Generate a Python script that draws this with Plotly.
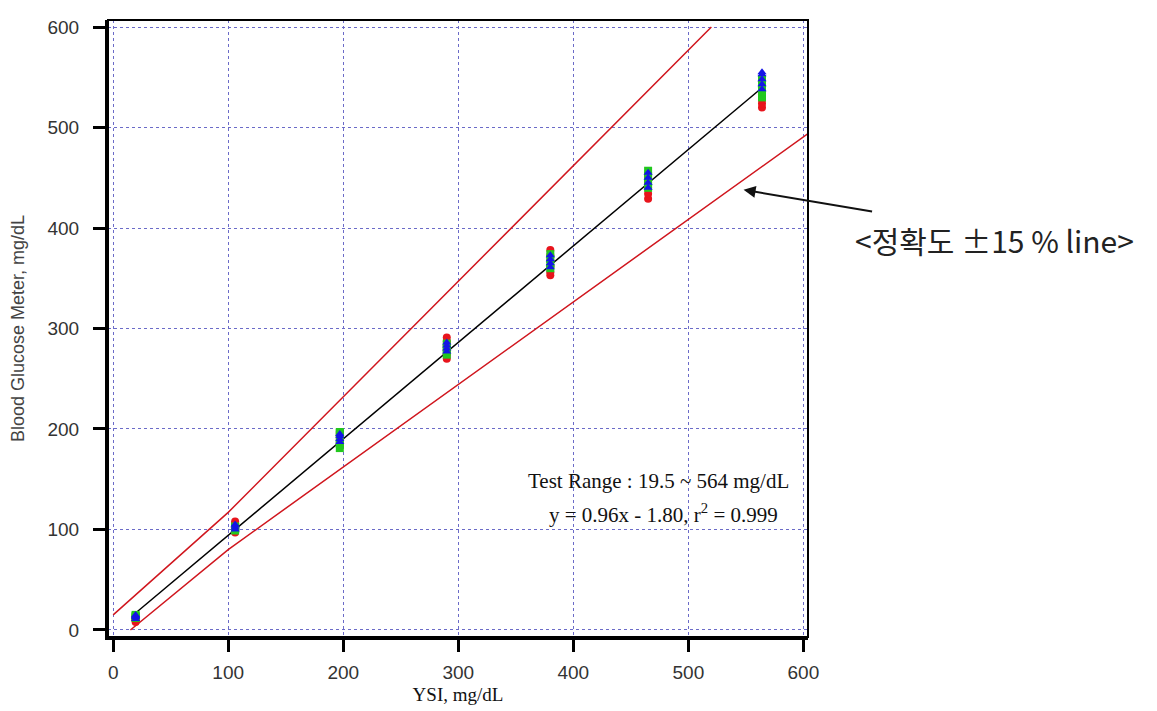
import plotly.graph_objs as go

# YSI reference levels (mg/dL)
ysi_levels = [19.5, 106, 197, 290, 380, 465, 564]

# meter readings per level, three lots
lot_red = [
    [8, 10, 11, 12, 13, 10],
    [97, 99, 101, 104, 106, 108],
    [184, 187, 190, 193, 195, 197],
    [270, 274, 279, 283, 287, 291],
    [353, 356, 362, 368, 373, 378],
    [429, 434, 440, 445, 449, 452],
    [520, 524, 528, 533, 540, 546],
]
lot_green = [
    [12, 14, 15, 13],
    [99, 101, 103, 102],
    [181, 185, 190, 196, 197],
    [274, 278, 281, 285],
    [360, 364, 369, 374],
    [440, 446, 452, 457],
    [530, 536, 541, 548],
]
lot_blue = [
    [11, 13, 15, 14],
    [100, 102, 104, 105],
    [187, 190, 193, 195],
    [277, 280, 283, 286],
    [361, 365, 369, 373],
    [440, 445, 450, 455],
    [538, 543, 548, 553, 555],
]

fit_x = [19.5, 564]
fit_y = [16.9, 539.6]
upper_x = [0, 100, 520]
upper_y = [15, 117, 600]
lower_x = [15, 100, 604]
lower_y = [0, 80, 494]

x_ticks = [0, 100, 200, 300, 400, 500, 600]
y_ticks = [0, 100, 200, 300, 400, 500, 600]


def flatten(levels, groups):
    xs, ys = [], []
    for lv, vals in zip(levels, groups):
        xs += [lv] * len(vals)
        ys += vals
    return xs, ys


fig = go.Figure()

fig.add_trace(go.Scatter(x=upper_x, y=upper_y, mode="lines",
                         line=dict(color="#d0161e", width=1.5)))
fig.add_trace(go.Scatter(x=lower_x, y=lower_y, mode="lines",
                         line=dict(color="#d0161e", width=1.5)))
fig.add_trace(go.Scatter(x=fit_x, y=fit_y, mode="lines",
                         line=dict(color="black", width=1.5)))

for groups, color, symbol in [
    (lot_red, "#e8141c", "circle"),
    (lot_green, "#22c81e", "square"),
    (lot_blue, "#1414e6", "triangle-up"),
]:
    xs, ys = flatten(ysi_levels, groups)
    fig.add_trace(go.Scatter(x=xs, y=ys, mode="markers",
                             marker=dict(color=color, symbol=symbol, size=8,
                                         line=dict(width=0))))

axis_common = dict(
    showline=True, linecolor="black", linewidth=3,
    ticks="outside", ticklen=12, tickwidth=3, tickcolor="black",
    showgrid=True, gridcolor="#6b6bc8", gridwidth=1, griddash="dot",
    zeroline=False, automargin=False,
    tickfont=dict(family="Liberation Sans, Arial", size=19, color="#333333"),
)

# page body adds 8px, so margins are shifted to compensate
fig.update_layout(
    width=1157, height=711,
    margin=dict(l=100, r=357, t=12, b=82),
    paper_bgcolor="white", plot_bgcolor="white",
    showlegend=False,
    xaxis=dict(range=[-4.5, 604], tickvals=x_ticks, ticklabelstandoff=4,
               title=dict(text="YSI, mg/dL", standoff=6,
                          font=dict(family="Liberation Serif, Times New Roman",
                                    size=19, color="#111111")),
               **axis_common),
    yaxis=dict(range=[-7, 607], tickvals=y_ticks, ticklabelstandoff=10,
               title=dict(text="Blood Glucose Meter, mg/dL", standoff=20,
                          font=dict(family="Liberation Sans, Arial",
                                    size=18, color="#444444")),
               **axis_common),
)

# thinner frame on top/right
fig.add_shape(type="rect", xref="paper", yref="paper", x0=0, y0=0, x1=1, y1=1,
              line=dict(color="black", width=2), layer="above")

serif = dict(family="Liberation Serif, Times New Roman", size=21, color="#111111")
fig.add_annotation(x=474, y=148, text="Test Range : 19.5 ~ 564 mg/dL",
                   showarrow=False, font=serif, xanchor="center")
fig.add_annotation(x=478, y=116, text="y = 0.96x - 1.80, r<sup>2</sup> = 0.999",
                   showarrow=False, font=serif, xanchor="center")

fig.add_annotation(x=548, y=438, ax=130, ay=22, text="", showarrow=True,
                   arrowhead=2, arrowsize=1.2, arrowwidth=2, arrowcolor="#111111")
fig.add_annotation(xref="paper", yref="paper", x=1.267, y=0.643,
                   text="&lt;정확도 ±15 % line&gt;", showarrow=False,
                   xanchor="center",
                   font=dict(family="Noto Sans CJK KR", size=30, color="#222222"))

fig.write_html("out.html")
